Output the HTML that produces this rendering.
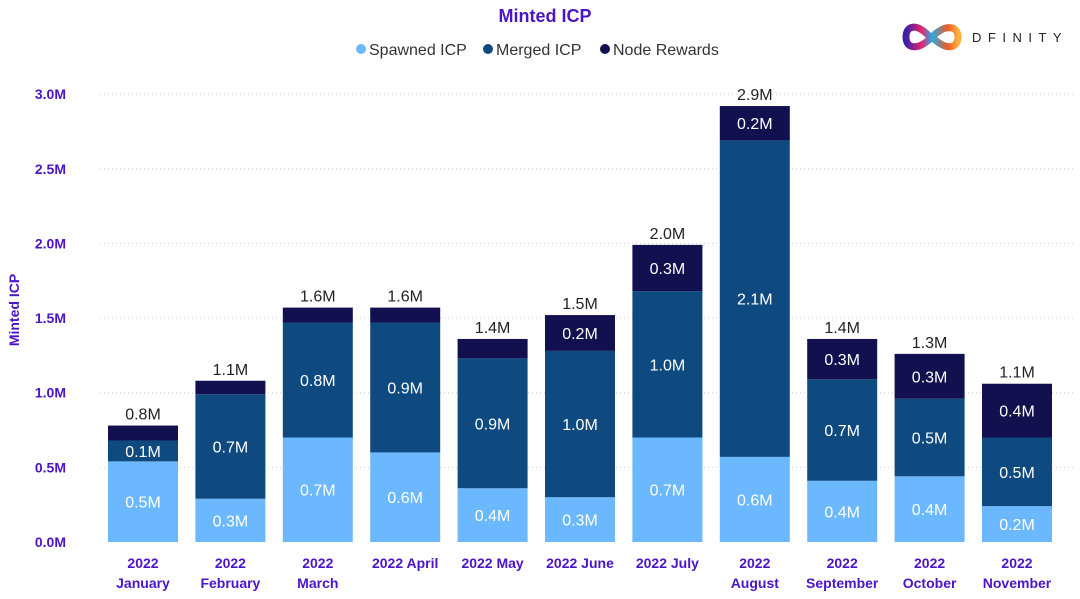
<!DOCTYPE html>
<html><head><meta charset="utf-8"><style>
body{margin:0;background:#fff;font-family:"Liberation Sans",sans-serif;}
svg{display:block}
</style></head><body>
<svg id="c" width="1080" height="599">
<defs>
<linearGradient id="g1" x1="0" x2="1"><stop offset="0" stop-color="#3b1ea8"/><stop offset="0.3" stop-color="#e8256f"/><stop offset="0.5" stop-color="#29abe2"/><stop offset="0.8" stop-color="#f15a24"/><stop offset="1" stop-color="#fbb03b"/></linearGradient>
</defs>
<text x="545" y="22" text-anchor="middle" font-size="18" font-weight="bold" fill="#4b14c8">Minted ICP</text>
<g font-size="16" fill="#333">
<circle cx="361" cy="49" r="5" fill="#6cb8ff"/>
<text x="369" y="55">Spawned ICP</text>
<circle cx="488" cy="49" r="5" fill="#0e4a80"/>
<text x="496" y="55">Merged ICP</text>
<circle cx="605" cy="49" r="5" fill="#12104f"/>
<text x="613" y="55">Node Rewards</text>
</g>
<g>
<path d="M930 37 C916 22 906 26 906 37 C906 49 918 51 932 37 C946 23 958 26 958 37 C958 49 946 51 932 37" fill="none" stroke="url(#g1)" stroke-width="7" stroke-linecap="round"/>
<text x="972" y="42" font-size="13" letter-spacing="6.5" fill="#222">DFINITY</text>
</g>
<text transform="translate(19,310) rotate(-90)" text-anchor="middle" font-size="14" font-weight="bold" fill="#4b14c8">Minted ICP</text>
<g id="grid"></g><g id="bars"></g><g id="xl"></g>
</svg>
<script>
const months=["2022|January","2022|February","2022|March","2022 April","2022 May","2022 June","2022 July","2022|August","2022|September","2022|October","2022|November"];
const spawned=[0.54,0.29,0.70,0.60,0.36,0.30,0.70,0.57,0.41,0.44,0.24];
const merged=[0.14,0.70,0.77,0.87,0.87,0.98,0.98,2.12,0.68,0.52,0.46];
const node=[0.10,0.09,0.10,0.10,0.13,0.24,0.31,0.23,0.27,0.30,0.36];
const ticks=[0,0.5,1,1.5,2,2.5,3];
const NS="http://www.w3.org/2000/svg";
const y=v=>542-v*149.3, x=i=>143+i*87.4;
function mk(t,a,p,txt){const e=document.createElementNS(NS,t);for(const k in a)e.setAttribute(k,a[k]);if(txt!=null)e.textContent=txt;p.appendChild(e);return e;}
const G=document.getElementById('grid'),B=document.getElementById('bars'),X=document.getElementById('xl');
ticks.forEach(t=>{
 if(t>0){const l=mk('line',{x1:100,x2:1075,y1:y(t),y2:y(t),stroke:'#d0d0d0','stroke-dasharray':'1,3'},G);
 
 }
 const tx=mk('text',{x:66,y:y(t)+5,'text-anchor':'end','font-size':14,'font-weight':'bold',fill:'#4b14c8'},G,t.toFixed(1)+'M');
 
 
});
months.forEach((m,i)=>{
 const segs=[[spawned[i],'#6cb8ff'],[merged[i],'#0e4a80'],[node[i],'#12104f']];
 let base=0;
 segs.forEach((s,j)=>{
  const r=mk('rect',{x:x(i)-35,y:y(base+s[0]),width:70,height:y(base)-y(base+s[0]),fill:s[1]},B);
  
  
  if(s[0]>=0.15||j<2){const t=mk('text',{x:x(i),y:(y(base)+y(base+s[0]))/2+6,'text-anchor':'middle','font-size':16,fill:'#fff'},B,s[0].toFixed(1)+'M');
  
  }
  base+=s[0];
 });
 const tl=mk('text',{x:x(i),y:y(base)-6,'text-anchor':'middle','font-size':16,fill:'#222'},B,base.toFixed(1)+'M');
 
 
 const parts=m.split('|');
 parts.forEach((p,k)=>{const t=mk('text',{x:x(i),y:parts.length>1?568+k*20:568,'text-anchor':'middle','font-size':14,'font-weight':'bold',fill:'#4b14c8'},X,p);
 
 });
});
</script>
</body></html>
